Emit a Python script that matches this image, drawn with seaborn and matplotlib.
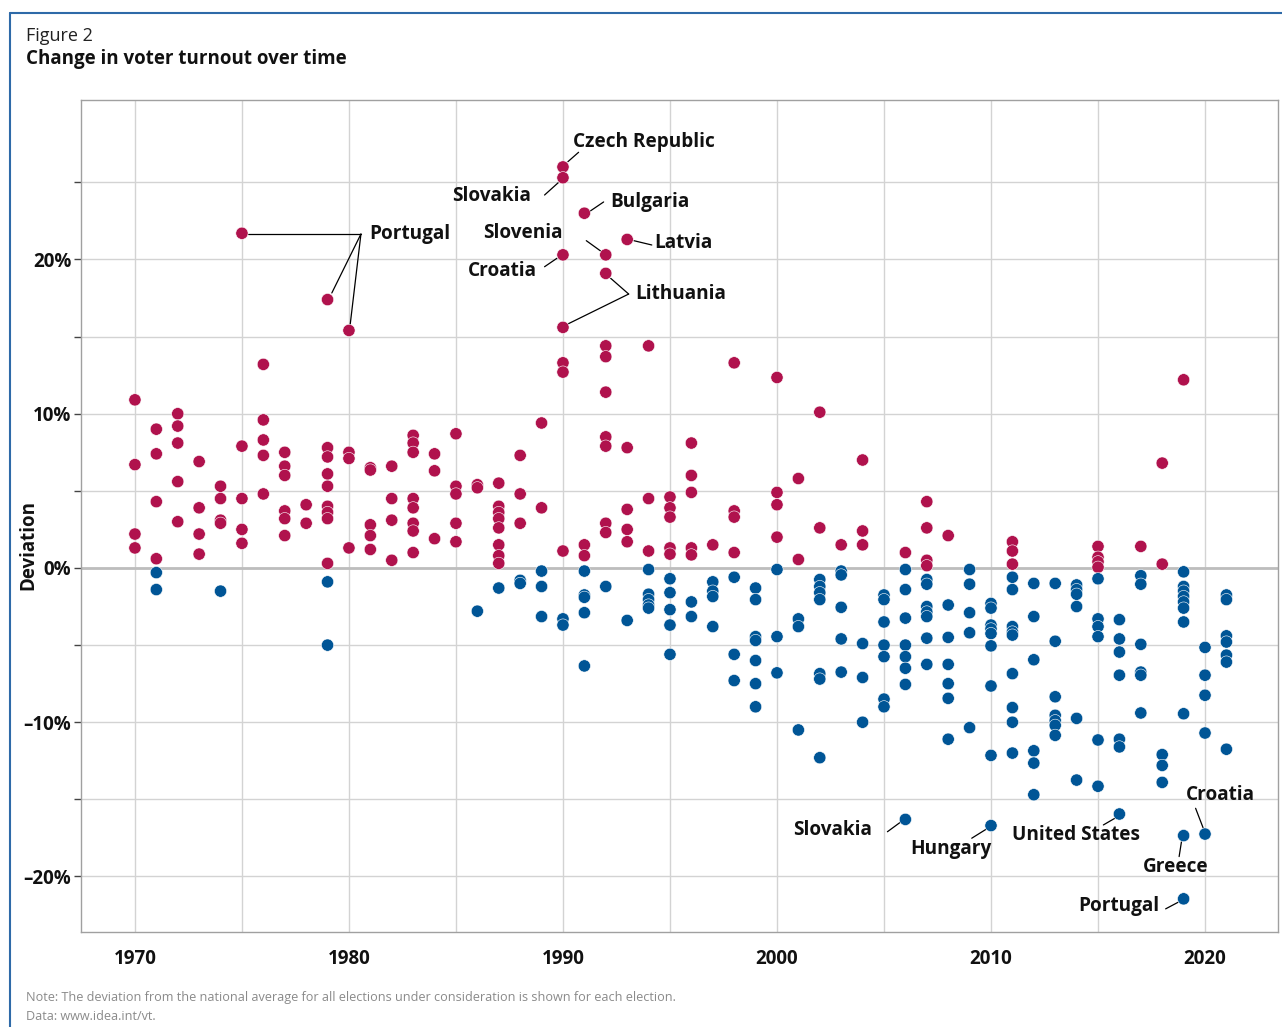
"""Change in voter turnout over time: deviation from each country's average."""

import matplotlib

matplotlib.use("Agg")

import matplotlib.pyplot as plt
import pandas as pd
import seaborn as sns

# Elections above the national average (red), one line per year.
ABOVE_YEARS = [
    1970, 1970, 1970, 1970,
    1971, 1971, 1971, 1971,
    1972, 1972, 1972, 1972, 1972,
    1973, 1973, 1973, 1973,
    1974, 1974, 1974, 1974,
    1975, 1975, 1975, 1975, 1975,
    1976, 1976, 1976, 1976, 1976,
    1977, 1977, 1977, 1977, 1977, 1977,
    1978, 1978,
    1979, 1979, 1979, 1979, 1979, 1979, 1979, 1979, 1979,
    1980, 1980, 1980, 1980,
    1981, 1981, 1981, 1981, 1981,
    1982, 1982, 1982, 1982,
    1983, 1983, 1983, 1983, 1983, 1983, 1983, 1983,
    1984, 1984, 1984,
    1985, 1985, 1985, 1985, 1985,
    1986, 1986,
    1987, 1987, 1987, 1987, 1987, 1987, 1987, 1987,
    1988, 1988, 1988,
    1989, 1989,
    1990, 1990, 1990, 1990, 1990, 1990, 1990,
    1991, 1991, 1991,
    1992, 1992, 1992, 1992, 1992, 1992, 1992, 1992, 1992,
    1993, 1993, 1993, 1993, 1993,
    1994, 1994, 1994,
    1995, 1995, 1995, 1995, 1995,
    1996, 1996, 1996, 1996, 1996,
    1997,
    1998, 1998, 1998, 1998,
    2000, 2000, 2000, 2000,
    2001, 2001,
    2002, 2002,
    2003,
    2004, 2004, 2004,
    2006,
    2007, 2007, 2007, 2007,
    2008,
    2011, 2011, 2011,
    2015, 2015, 2015, 2015,
    2017,
    2018, 2018,
    2019,
]
ABOVE_VALUES = [
    10.9, 6.7, 2.2, 1.3,
    9.0, 7.4, 4.3, 0.6,
    10.0, 9.2, 8.1, 5.6, 3.0,
    6.9, 3.9, 2.2, 0.9,
    5.3, 4.5, 3.1, 2.9,
    21.7, 7.9, 4.5, 2.5, 1.6,
    13.2, 9.6, 8.3, 7.3, 4.8,
    7.5, 6.6, 6.0, 3.7, 3.2, 2.1,
    4.1, 2.9,
    17.4, 7.8, 7.2, 6.1, 5.3, 4.0, 3.6, 3.2, 0.3,
    15.4, 7.5, 7.1, 1.3,
    6.5, 6.35, 2.8, 2.1, 1.2,
    6.6, 4.5, 3.1, 0.5,
    8.6, 8.1, 7.5, 4.5, 3.9, 2.9, 2.4, 1.0,
    7.4, 6.3, 1.9,
    8.7, 5.3, 4.8, 2.9, 1.7,
    5.4, 5.2,
    5.5, 4.0, 3.6, 3.2, 2.6, 1.5, 0.8, 0.3,
    7.3, 4.8, 2.9,
    9.4, 3.9,
    26.0, 25.3, 20.3, 15.6, 13.3, 12.7, 1.1,
    23.0, 1.5, 0.8,
    20.3, 19.1, 14.4, 13.7, 11.4, 8.5, 7.9, 2.9, 2.3,
    21.3, 7.8, 3.8, 2.5, 1.7,
    14.4, 4.5, 1.1,
    4.6, 3.9, 3.3, 1.3, 0.9,
    8.1, 6.0, 4.9, 1.3, 0.85,
    1.5,
    13.3, 3.7, 3.3, 1.0,
    12.35, 4.9, 4.1, 2.0,
    5.8, 0.55,
    10.1, 2.6,
    1.5,
    7.0, 2.4, 1.5,
    1.0,
    4.3, 2.6, 0.5, 0.15,
    2.1,
    1.7, 1.1, 0.25,
    1.4, 0.7, 0.4, 0.05,
    1.4,
    6.8, 0.25,
    12.2,
]

# Elections below the national average (blue).
BELOW_YEARS = [
    1971, 1971,
    1974,
    1979, 1979,
    1986,
    1987,
    1988, 1988,
    1989, 1989, 1989,
    1990, 1990,
    1991, 1991, 1991, 1991, 1991,
    1992,
    1993,
    1994, 1994, 1994, 1994, 1994,
    1995, 1995, 1995, 1995, 1995,
    1996, 1996,
    1997, 1997, 1997, 1997,
    1998, 1998, 1998,
    1999, 1999, 1999, 1999, 1999, 1999, 1999,
    2000, 2000, 2000,
    2001, 2001, 2001,
    2002, 2002, 2002, 2002, 2002, 2002, 2002,
    2003, 2003, 2003, 2003, 2003,
    2004, 2004, 2004,
    2005, 2005, 2005, 2005, 2005, 2005, 2005,
    2006, 2006, 2006, 2006, 2006, 2006, 2006, 2006,
    2007, 2007, 2007, 2007, 2007, 2007, 2007,
    2008, 2008, 2008, 2008, 2008, 2008,
    2009, 2009, 2009, 2009, 2009,
    2010, 2010, 2010, 2010, 2010, 2010, 2010, 2010, 2010,
    2011, 2011, 2011, 2011, 2011, 2011, 2011, 2011, 2011,
    2012, 2012, 2012, 2012, 2012, 2012,
    2013, 2013, 2013, 2013, 2013, 2013, 2013,
    2014, 2014, 2014, 2014, 2014, 2014,
    2015, 2015, 2015, 2015, 2015, 2015,
    2016, 2016, 2016, 2016, 2016, 2016, 2016,
    2017, 2017, 2017, 2017, 2017, 2017,
    2018, 2018, 2018,
    2019, 2019, 2019, 2019, 2019, 2019, 2019, 2019, 2019, 2019,
    2020, 2020, 2020, 2020, 2020,
    2021, 2021, 2021, 2021, 2021, 2021, 2021,
]
BELOW_VALUES = [
    -0.3, -1.4,
    -1.5,
    -0.9, -5.0,
    -2.8,
    -1.3,
    -0.8, -1.0,
    -0.2, -1.2, -3.15,
    -3.3, -3.7,
    -0.2, -1.75, -1.9, -2.9, -6.35,
    -1.2,
    -3.4,
    -0.1, -1.7, -2.05, -2.4, -2.6,
    -0.7, -1.6, -2.7, -3.7, -5.6,
    -2.2, -3.15,
    -0.9, -1.5, -1.85, -3.8,
    -0.6, -5.6, -7.3,
    -1.3, -2.05, -4.45, -4.7, -6.0, -7.5, -9.0,
    -0.1, -4.45, -6.8,
    -3.3, -3.8, -10.5,
    -0.75, -1.2, -1.6, -2.05, -6.85, -7.2, -12.3,
    -0.2, -0.45, -2.55, -4.6, -6.75,
    -4.9, -7.1, -10.0,
    -1.75, -2.05, -3.5, -5.0, -5.75, -8.5, -9.0,
    -0.1, -1.4, -3.25, -5.0, -5.75, -6.5, -7.55, -16.3,
    -0.75, -1.05, -2.5, -2.85, -3.15, -4.55, -6.25,
    -2.4, -4.5, -6.25, -7.5, -8.45, -11.1,
    -0.1, -1.05, -2.9, -4.2, -10.35,
    -2.3, -2.6, -3.7, -3.95, -4.25, -5.05, -7.65, -12.15, -16.7,
    -0.6, -1.4, -3.8, -4.15, -4.35, -6.85, -9.05, -10.0, -12.0,
    -1.0, -3.15, -5.95, -11.85, -12.65, -14.7,
    -1.0, -4.75, -8.35, -9.55, -9.9, -10.2, -10.85,
    -1.1, -1.4, -1.7, -2.5, -9.75, -13.75,
    -0.7, -3.3, -3.8, -4.45, -11.15, -14.15,
    -3.35, -4.6, -5.45, -6.95, -11.1, -11.6, -15.95,
    -0.5, -1.05, -4.95, -6.75, -6.95, -9.4,
    -12.1, -12.8, -13.9,
    -0.25, -1.2, -1.5, -1.85, -2.2, -2.6, -3.5, -9.45, -17.35, -21.45,
    -5.15, -6.95, -8.25, -10.7, -17.25,
    -1.75, -2.05, -4.4, -4.8, -5.65, -6.1, -11.75,
]

Y_TICKS = [-20, -15, -10, -5, 0, 5, 10, 15, 20, 25]
Y_TICK_LABELS = ["\u201320%", "", "\u201310%", "", "0%", "", "10%", "", "20%", ""]
X_TICKS = [1970, 1975, 1980, 1985, 1990, 1995, 2000, 2005, 2010, 2015, 2020]
X_TICK_LABELS = ["1970", "", "1980", "", "1990", "", "2000", "", "2010", "", "2020"]

# Country callouts: label, text anchor (year, %), horizontal alignment, leader segments.
CALLOUTS = [
    ("Czech Republic", 1990.47, 27.64, "left", [((1990.23, 26.34), (1990.73, 26.95))]),
    ("Slovakia", 1988.52, 24.12, "right", [((1989.14, 24.18), (1989.78, 24.98))]),
    ("Bulgaria", 1992.23, 23.71, "left", [((1991.23, 23.10), (1991.90, 23.73))]),
    ("Slovenia", 1990.00, 21.74, "right", [((1991.09, 21.22), (1991.76, 20.55))]),
    ("Latvia", 1994.27, 21.05, "left", [((1993.31, 21.22), (1994.15, 20.94))]),
    ("Croatia", 1988.77, 19.25, "right", [((1989.14, 19.53), (1989.72, 20.08))]),
    ("Lithuania", 1993.39, 17.76, "left", [((1993.07, 17.76), (1992.23, 18.78)),
                                          ((1993.07, 17.76), (1990.23, 15.82))]),
    ("Portugal", 1980.93, 21.65, "left", [((1980.56, 21.65), (1975.30, 21.65)),
                                         ((1980.56, 21.65), (1979.20, 17.83)),
                                         ((1980.56, 21.65), (1980.05, 15.69))]),
    ("Slovakia", 2004.45, -16.99, "right", [((2005.16, -17.10), (2005.75, -16.50))]),
    ("Hungary", 2006.22, -18.20, "left", [((2009.10, -17.52), (2009.84, -16.88))]),
    ("United States", 2010.97, -17.31, "left", [((2015.25, -16.66), (2015.87, -16.16))]),
    ("Croatia", 2020.70, -14.72, "center", [((2019.56, -15.58), (2019.92, -16.88))]),
    ("Greece", 2018.64, -19.36, "center", [((2018.90, -17.74), (2018.79, -18.71))]),
    ("Portugal", 2017.85, -21.90, "right", [((2018.16, -22.10), (2018.80, -21.63))]),
]

RED = "#b0124d"
BLUE = "#005596"
FRAME_BLUE = "#2e6aa8"
GRID = "#d3d3d3"

sns.set_theme(style="whitegrid")
plt.rcParams["font.family"] = ["Open Sans", "DejaVu Sans"]

frame = pd.concat(
    [
        pd.DataFrame({"year": ABOVE_YEARS, "deviation": ABOVE_VALUES, "side": "above"}),
        pd.DataFrame({"year": BELOW_YEARS, "deviation": BELOW_VALUES, "side": "below"}),
    ],
    ignore_index=True,
)

fig = plt.figure(figsize=(12.82, 10.27), dpi=100)
ax = fig.add_axes([81 / 1282, 1 - 932 / 1027, 1197 / 1282, 832 / 1027])

ax.axhline(0, color="#bdbdbd", linewidth=2.0, zorder=1)
sns.scatterplot(
    data=frame,
    x="year",
    y="deviation",
    hue="side",
    palette={"above": RED, "below": BLUE},
    s=78,
    edgecolor="white",
    linewidth=0.4,
    legend=False,
    zorder=3,
    ax=ax,
)

for label, tx, ty, ha, segments in CALLOUTS:
    for (x0, y0), (x1, y1) in segments:
        ax.plot([x0, x1], [y0, y1], color="black", linewidth=0.9, zorder=2)
    ax.text(tx, ty, label, ha=ha, va="center", fontsize=13.7, fontweight="bold",
            color="#111111", zorder=4)

ax.set_xlim(1967.48, 2023.41)
ax.set_ylim(-23.6, 30.34)
ax.set_xticks(X_TICKS)
ax.set_xticklabels(X_TICK_LABELS)
ax.set_yticks(Y_TICKS)
ax.set_yticklabels(Y_TICK_LABELS)
ax.set_xlabel("")
ax.set_ylabel("")
ax.grid(True, color=GRID, linewidth=1.0)
ax.set_axisbelow(True)
ax.tick_params(axis="x", length=0, pad=12, labelsize=13.5, labelcolor="#111111")
ax.tick_params(axis="y", length=5, width=1, color="#444444", pad=2,
               labelsize=13.5, labelcolor="#111111", left=True)
for tick in ax.get_xticklabels() + ax.get_yticklabels():
    tick.set_fontweight("bold")
for spine in ax.spines.values():
    spine.set_color("#a0a0a0")
    spine.set_linewidth(1.0)

fig.text(28 / 1282, 1 - 545 / 1027, "Deviation", rotation=90, ha="center", va="center",
         fontsize=13.5, fontweight="bold", color="#111111")

fig.text(26 / 1282, 1 - 36 / 1027, "Figure 2", ha="left", va="center",
         fontsize=13, color="#222222")
fig.text(26 / 1282, 1 - 59 / 1027, "Change in voter turnout over time", ha="left",
         va="center", fontsize=13.5, fontweight="bold", color="#111111")
fig.text(26 / 1282, 1 - 998 / 1027,
         "Note: The deviation from the national average for all elections under "
         "consideration is shown for each election.",
         ha="left", va="center", fontsize=9.1, color="#8a8a8a")
fig.text(26 / 1282, 1 - 1016 / 1027, "Data: www.idea.int/vt.", ha="left", va="center",
         fontsize=9.1, color="#8a8a8a")

# Blue frame along the top and left edges of the figure.
fig.add_artist(plt.Line2D([10 / 1282, 10 / 1282], [0, 1 - 13 / 1027],
                          color=FRAME_BLUE, linewidth=1.5))
fig.add_artist(plt.Line2D([10 / 1282, 1], [1 - 13 / 1027, 1 - 13 / 1027],
                          color=FRAME_BLUE, linewidth=1.5))

fig.savefig("out.png", dpi=100)
plt.close(fig)
